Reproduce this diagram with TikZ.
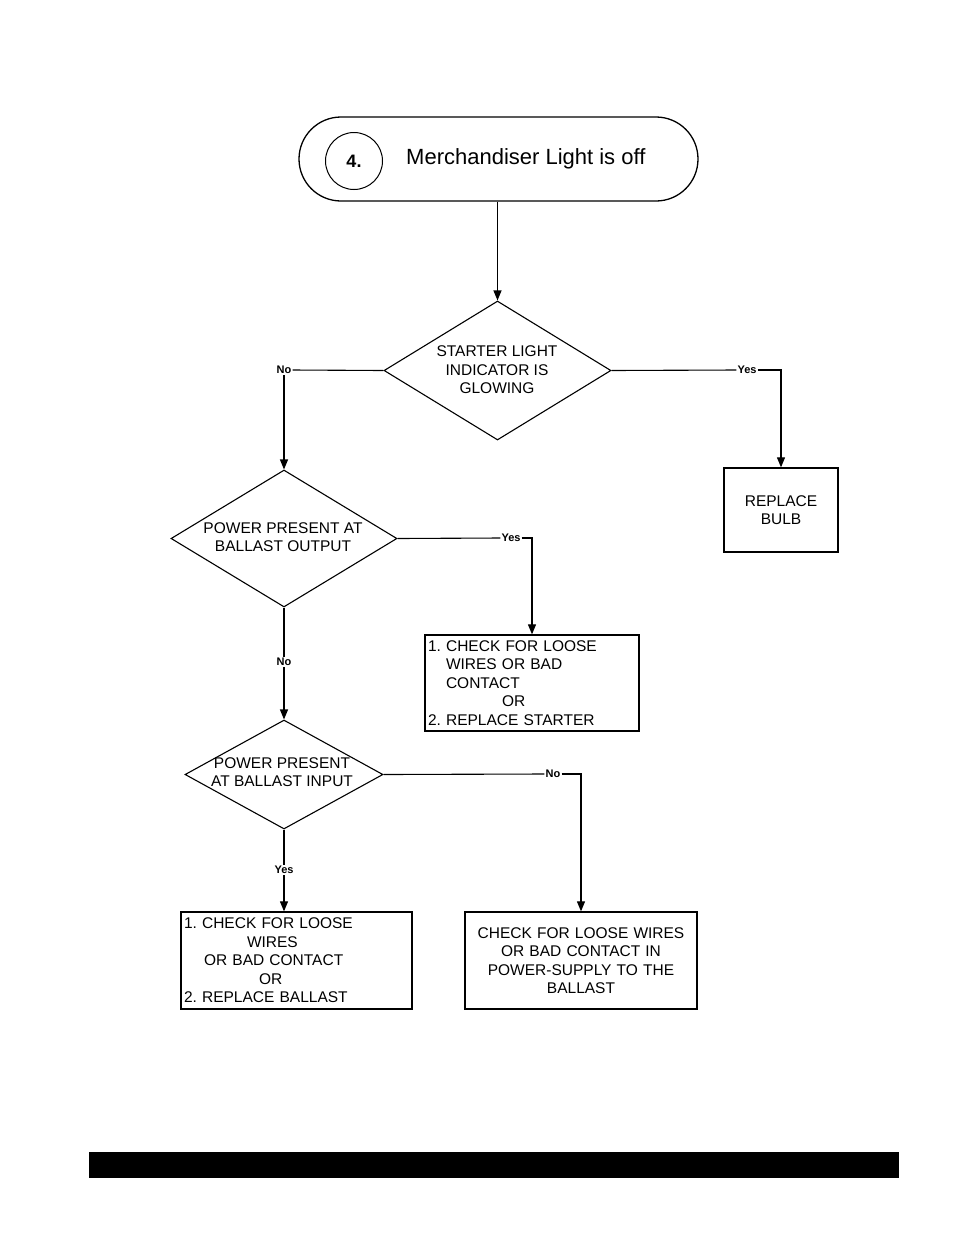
\documentclass[tikz,border=0pt]{standalone}
\usepackage{fontspec}
\setmainfont{Liberation Sans}
\usetikzlibrary{shapes.geometric,arrows.meta}
\frenchspacing
\begin{document}
\begin{tikzpicture}[x=1pt,y=-1pt,
  box/.style={draw,line width=1.3pt,inner sep=3pt,font=\fontsize{15.5}{18.5}\selectfont},
  dia/.style={draw,shape=diamond,line width=1.1pt,inner sep=0pt},
  diatext/.style={align=center,inner sep=0pt,font=\fontsize{15.5}{18.5}\selectfont},
  lab/.style={inner sep=1pt,font=\fontsize{11}{12}\selectfont\bfseries},
  conn/.style={line width=1.1pt},
  arr/.style={line width=1.1pt,-{Triangle[length=10pt,width=8pt]}}]
\useasboundingbox (0,0) rectangle (954,1235);
% terminator
\node[draw,line width=1.3pt,rounded corners=42pt,minimum width=399pt,minimum height=84pt] (term) at (498.5,159) {};
\node[draw,circle,line width=1pt,minimum size=57pt,inner sep=0pt,font=\fontsize{18}{20}\selectfont\bfseries] (num) at (354,161) {4.};
\node[inner sep=0pt,font=\fontsize{22}{26}\selectfont,anchor=west] (title) at (406,159) {Merchandiser Light is off};
% decisions
\node[dia,minimum width=227pt,minimum height=139pt] (d1) at (497.5,370.5) {};
\node[diatext] (d1t) at (497,370) {STARTER LIGHT\\INDICATOR IS\\GLOWING};
\node[dia,minimum width=226pt,minimum height=137pt] (d2) at (284,538.5) {};
\node[diatext] (d2t) at (283,537) {POWER PRESENT AT\\BALLAST OUTPUT};
\node[dia,minimum width=198pt,minimum height=109pt] (d3) at (284,774.5) {};
\node[diatext] (d3t) at (282,772) {POWER PRESENT\\AT BALLAST INPUT};
% boxes
\node[box,minimum width=114pt,minimum height=84pt,align=center] (bulb) at (781,510) {REPLACE\\BULB};
\node[box,text width=208pt,minimum height=96pt,align=left] (box1) at (532,683)
  {1. CHECK FOR LOOSE\\\hspace*{18pt}WIRES OR BAD\\\hspace*{18pt}CONTACT\\\hspace*{74pt}OR\\2. REPLACE STARTER};
\node[box,text width=225pt,minimum height=97pt,align=left] (box2) at (296.5,960.5)
  {1. CHECK FOR LOOSE\\\hspace*{63pt}WIRES\\\hspace*{20pt}OR BAD CONTACT\\\hspace*{75pt}OR\\2. REPLACE BALLAST};
\node[box,text width=226pt,minimum height=97pt,align=center] (box3) at (581,960.5)
  {CHECK FOR LOOSE WIRES\\OR BAD CONTACT IN\\POWER-SUPPLY TO THE\\BALLAST};
% labels
\node[lab] (no1) at (284,370) {No};
\node[lab] (yes1) at (747,370) {Yes};
\node[lab] (yes2) at (511,538) {Yes};
\node[lab] (no2) at (284,662) {No};
\node[lab] (no3) at (553,774) {No};
\node[lab] (yes3) at (284,870) {Yes};
% connectors
\draw[arr] (term.south -| d1.north) -- (d1.north);
\draw[conn] (d1.west) -- (no1.east);
\draw[arr] (no1.south) -- (no1.south |- d2.north);
\draw[conn] (d1.east) -- (yes1.west);
\draw[arr] (yes1.east) -| (bulb.north);
\draw[conn] (d2.east) -- (yes2.west);
\draw[arr] (yes2.east) -| (box1.north);
\draw[conn] (d2.south) -- (d2.south |- no2.north);
\draw[arr] (no2.south) -- (no2.south |- d3.north);
\draw[conn] (d3.east) -- (no3.west);
\draw[arr] (no3.east) -| (box3.north);
\draw[conn] (d3.south) -- (d3.south |- yes3.north);
\draw[arr] (yes3.south) -- (yes3.south |- box2.north);
% footer bar
\fill (89,1152) rectangle (899,1178);
\end{tikzpicture}
\end{document}
